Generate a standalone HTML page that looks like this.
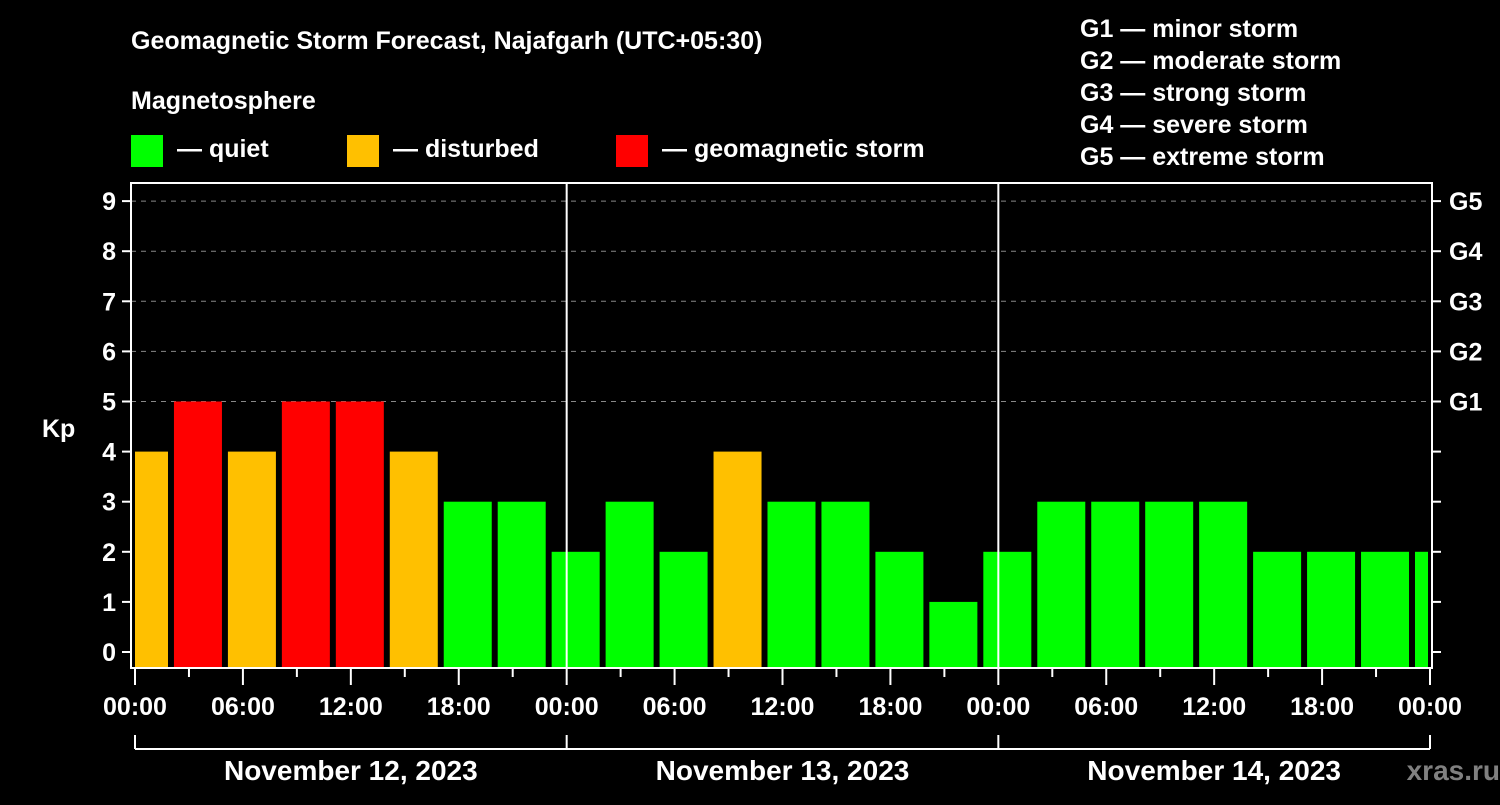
<!DOCTYPE html>
<html><head><meta charset="utf-8"><style>
body{margin:0;background:#000;}
svg text{font-family:"Liberation Sans",sans-serif;font-weight:bold;fill:#fff;}
</style></head><body>
<svg id="c" width="1500" height="800" xmlns="http://www.w3.org/2000/svg">
<rect width="1500" height="800" fill="#000"/>
<text x="131" y="49" font-size="25">Geomagnetic Storm Forecast, Najafgarh (UTC+05:30)</text>
<text x="131" y="109" font-size="25">Magnetosphere</text>
<g><rect x="131" y="135" width="32" height="32" fill="#00ff00"/><text x="177" y="157" font-size="25">— quiet</text></g>
<g><rect x="347" y="135" width="32" height="32" fill="#ffc000"/><text x="393" y="157" font-size="25">— disturbed</text></g>
<g><rect x="616" y="135" width="32" height="32" fill="#ff0000"/><text x="662" y="157" font-size="25">— geomagnetic storm</text></g>
<g font-size="25">
<text x="1080" y="37">G1 — minor storm</text>
<text x="1080" y="69">G2 — moderate storm</text>
<text x="1080" y="101">G3 — strong storm</text>
<text x="1080" y="133">G4 — severe storm</text>
<text x="1080" y="165">G5 — extreme storm</text>
</g>
<g id="plot"></g>
<text x="1500" y="780" font-size="28" text-anchor="end" style="fill:#808080">xras.ru</text>
</svg>
<script>
const kpValues=[4,5,4,5,5,4,3,3,2,3,2,4,3,3,2,1,2,3,3,3,3,2,2,2,2];
const kpTicks=[0,1,2,3,4,5,6,7,8,9];
const gLabels=["G1","G2","G3","G4","G5"];
const hourLabels=["00:00","06:00","12:00","18:00"];
const dayLabels=["November 12, 2023","November 13, 2023","November 14, 2023"];
const L=131,R=1432,T=183,B=668,X0=135,PXH=(1430-135)/72;
const x=h=>X0+h*PXH;
const y=v=>652-v*50.1;
const NS="http://www.w3.org/2000/svg";
const g=document.getElementById('plot');
function mk(t,a,p){const e=document.createElementNS(NS,t);for(const k in a)e.setAttribute(k,a[k]);(p||g).appendChild(e);return e;}
// gridlines
kpTicks.forEach(v=>{if(v>=5){const l=mk('line',{x1:L,x2:R,y1:y(v),y2:y(v),stroke:'#888','stroke-dasharray':'5,5','stroke-width':1});

}});
// bars
const clip=mk('clipPath',{id:'cp'});mk('rect',{x:X0,y:T,width:1428-X0,height:B-T},clip);
kpValues.forEach((v,i)=>{const c=0.5+3*i;const col=v>=5?'#ff0000':v>=4?'#ffc000':'#00ff00';
const r=mk('rect',{x:x(c)-24,y:y(v),width:48,height:B-y(v),fill:col,'clip-path':'url(#cp)'});

});
// frame
mk('rect',{x:L,y:T,width:R-L,height:B-T,fill:'none',stroke:'#fff','stroke-width':2});
[1,2].forEach(d=>{const l=mk('line',{x1:x(24*d),x2:x(24*d),y1:T,y2:B,stroke:'#fff','stroke-width':2});

});
// y ticks
kpTicks.forEach(v=>{mk('line',{x1:L-9,x2:L,y1:y(v),y2:y(v),stroke:'#fff','stroke-width':2});
mk('line',{x1:R,x2:R+9,y1:y(v),y2:y(v),stroke:'#fff','stroke-width':2});
const t=mk('text',{x:116,y:y(v)+9,'font-size':25,'text-anchor':'end'});t.textContent=v;

});
gLabels.forEach((s,i)=>{const t=mk('text',{x:1449,y:y(5+i)+9,'font-size':25});t.textContent=s;

});
const kp=mk('text',{x:42,y:437,'font-size':25});kp.textContent='Kp';


// x ticks
for(let h=0;h<=72;h+=3){const maj=h%6==0;mk('line',{x1:x(h),x2:x(h),y1:B,y2:B+(maj?17:9),stroke:'#fff','stroke-width':2});
if(maj){const t=mk('text',{x:x(h),y:715,'font-size':25,'text-anchor':'middle'});t.textContent=hourLabels[(h/6)%4];

}}
// day bracket
mk('line',{x1:x(0),x2:x(72),y1:749,y2:749,stroke:'#fff','stroke-width':2});
for(let d=0;d<=3;d++)mk('line',{x1:x(24*d),x2:x(24*d),y1:735,y2:749,stroke:'#fff','stroke-width':2});
dayLabels.forEach((s,i)=>{const t=mk('text',{x:x(24*i+12),y:780,'font-size':28,'text-anchor':'middle'});t.textContent=s;

});
</script>
</body></html>
